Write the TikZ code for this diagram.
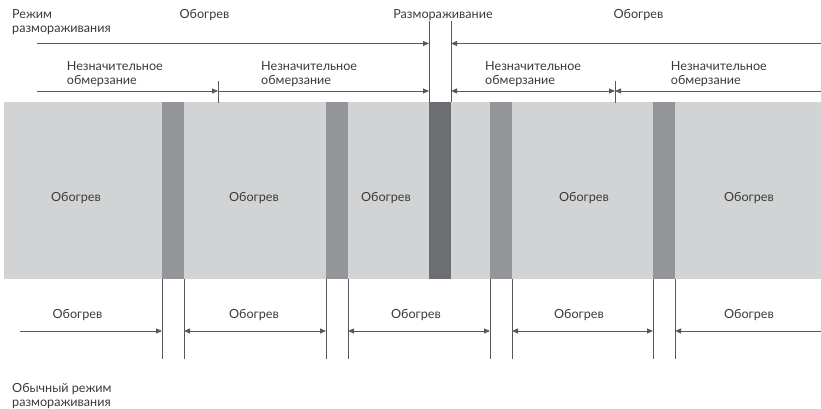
\documentclass[tikz,border=0pt]{standalone}
\usepackage{fontspec}
\setmainfont{Lato}
\usetikzlibrary{arrows.meta}
\definecolor{bandc}{HTML}{D1D3D4}
\definecolor{stripc}{HTML}{939598}
\definecolor{dstripc}{HTML}{6D6E71}
\definecolor{lnc}{HTML}{58595B}
\definecolor{txtc}{HTML}{3A3A3A}
\begin{document}
\begin{tikzpicture}[x=1pt,y=-1pt,
  lbl/.style={font=\fontsize{12.6}{14}\selectfont, text=txtc, inner sep=0pt},
  lblL/.style={lbl, align=left, anchor=base west},
  lblC/.style={lbl, anchor=base},
  dim/.style={draw=lnc, line width=0.8pt},
  arr/.style={dim, -{Triangle[length=6pt,width=5pt]}},
  arrb/.style={dim, {Triangle[length=6pt,width=5pt]}-{Triangle[length=6pt,width=5pt]}}]
\useasboundingbox (0,0) rectangle (821,409);
% band
\fill[bandc] (4,102.5) rectangle (821,279.3);
\fill[stripc] (162,102.5) rectangle (184,279.3);
\fill[stripc] (326,102.5) rectangle (348,279.3);
\fill[dstripc] (429,102.5) rectangle (451,279.3);
\fill[stripc] (490,102.5) rectangle (512,279.3);
\fill[stripc] (653,102.5) rectangle (675,279.3);
% coordinates: top verticals
\coordinate (dA1) at (429,21); \coordinate (dA2) at (429,102.5);
\coordinate (dB1) at (451,21); \coordinate (dB2) at (451,102.5);
\coordinate (k1a) at (218,81); \coordinate (k1b) at (218,103);
\coordinate (k2a) at (615,81); \coordinate (k2b) at (615,103);
\draw[dim] (dA1) -- (dA2);
\draw[dim] (dB1) -- (dB2);
\draw[dim] (k1a) -- (k1b);
\draw[dim] (k2a) -- (k2b);
% top arrow row
\coordinate (r1s) at (37,43.5); \coordinate (r1a) at (429,43.5);
\coordinate (r1b) at (451,43.5); \coordinate (r1e) at (821,43.5);
\draw[arr] (r1s) -- (r1a);
\draw[arr] (r1e) -- (r1b);
% second arrow row
\coordinate (r2s) at (37,91); \coordinate (r2k1) at (218,91);
\coordinate (r2a) at (429,91); \coordinate (r2b) at (451,91);
\coordinate (r2k2) at (615,91); \coordinate (r2e) at (821,91);
\draw[arr] (r2s) -- (r2k1);
\draw[arr] (r2k1) -- (r2a);
\draw[arrb] (r2b) -- (r2k2);
\draw[arr] (r2e) -- (r2k2);
% bottom verticals
\foreach \xx/\nm in {162/v1,184/v2,326/v3,348/v4,490/v5,512/v6,653/v7,675/v8}{
  \coordinate (\nm a) at (\xx,279.3);
  \coordinate (\nm b) at (\xx,359);
  \draw[dim] (\nm a) -- (\nm b);
}
% bottom arrows
\coordinate (b0) at (20,331);
\foreach \xx/\nm in {162/v1,184/v2,326/v3,348/v4,490/v5,512/v6,653/v7,675/v8}{
  \coordinate (\nm m) at (\xx,331);
}
\coordinate (b9) at (821,331);
\draw[arr] (b0) -- (v1m);
\draw[arrb] (v2m) -- (v3m);
\draw[arrb] (v4m) -- (v5m);
\draw[arrb] (v6m) -- (v7m);
\draw[arr] (b9) -- (v8m);
% top texts (base anchor = baseline of last line)
\node[lblL] (mode) at (12,32.5) {Режим\\размораживания};
\node[lblC] (th1) at (204.5,18.5) {Обогрев};
\node[lblC] (thd) at (443,18.5) {Размораживание};
\node[lblC] (th2) at (638.5,18.5) {Обогрев};
\node[lblL] (ic1) at (66.7,84.3) {Незначительное\\обмерзание};
\node[lblL] (ic2) at (261,84.3) {Незначительное\\обмерзание};
\node[lblL] (ic3) at (485,84.3) {Незначительное\\обмерзание};
\node[lblL] (ic4) at (670.7,84.3) {Незначительное\\обмерзание};
% band texts
\node[lblC] (m1) at (76,201.7) {Обогрев};
\node[lblC] (m2) at (254,201.7) {Обогрев};
\node[lblC] (m3) at (386,201.7) {Обогрев};
\node[lblC] (m4) at (584,201.7) {Обогрев};
\node[lblC] (m5) at (749,201.7) {Обогрев};
% bottom texts
\node[lblC] (n1) at (77.5,318) {Обогрев};
\node[lblC] (n2) at (254,318) {Обогрев};
\node[lblC] (n3) at (416,318) {Обогрев};
\node[lblC] (n4) at (579,318) {Обогрев};
\node[lblC] (n5) at (749,318) {Обогрев};
\node[lblL] (norm) at (12,406.5) {Обычный режим\\размораживания};
\end{tikzpicture}
\end{document}
